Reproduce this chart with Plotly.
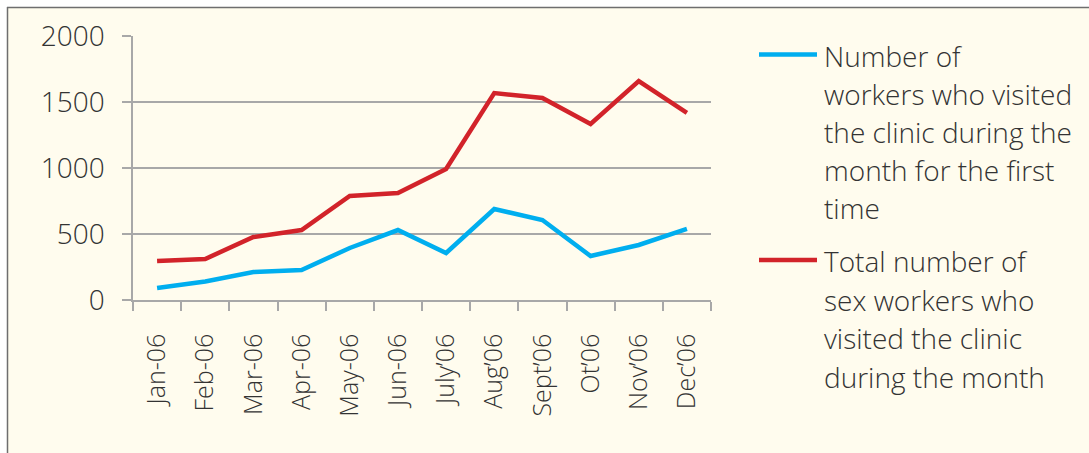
import plotly.graph_objects as go

months = ["Jan-06", "Feb-06", "Mar-06", "Apr-06", "May-06", "Jun-06",
          "July\u201906", "Aug\u201906", "Sept\u201906", "Ot\u201906", "Nov\u201906", "Dec\u201906"]
first_time = [91, 140, 212, 227, 394, 530, 356, 689, 606, 333, 417, 538]
total = [295, 311, 477, 530, 788, 810, 992, 1568, 1530, 1333, 1659, 1417]
y_ticks = [0, 500, 1000, 1500, 2000]
legend_first = ["Number of", "workers who visited", "the clinic during the", "month for the first", "time"]
legend_total = ["Total number of", "sex workers who", "visited the clinic", "during the month"]

BLUE = "#00AEEF"
RED = "#D2232A"
GRID = "#A8A8A8"
BG = "#FFFCEE"
TXT = "#333333"
FONT = "Open Sans"
WEIGHT = 300

W, H = 1089, 453
L, R, T, B = 133, 711, 36, 300

def px(x):
    return (x - L) / (R - L)

def py(y):
    return (B - y) / (B - T)

fig = go.Figure()
fig.add_trace(go.Scatter(x=months, y=first_time, mode="lines",
                         line=dict(color=BLUE, width=4.5), name=" ".join(legend_first)))
fig.add_trace(go.Scatter(x=months, y=total, mode="lines",
                         line=dict(color=RED, width=4.5), name=" ".join(legend_total)))

shapes = [
    dict(type="rect", xref="paper", yref="paper", x0=px(0), x1=px(W), y0=py(0), y1=py(7),
         fillcolor="white", line=dict(width=0), layer="below"),
    dict(type="rect", xref="paper", yref="paper", x0=px(0), x1=px(7), y0=py(0), y1=py(H),
         fillcolor="white", line=dict(width=0), layer="below"),
    dict(type="line", xref="paper", yref="paper", x0=px(7), x1=px(W), y0=py(7.5), y1=py(7.5),
         line=dict(color="#6E6E6E", width=1.5)),
    dict(type="line", xref="paper", yref="paper", x0=px(7.5), x1=px(7.5), y0=py(7), y1=py(H),
         line=dict(color="#6E6E6E", width=1.5)),
    dict(type="line", xref="paper", yref="paper", x0=px(759), x1=px(817), y0=py(54.5), y1=py(54.5),
         line=dict(color=BLUE, width=4.5)),
    dict(type="line", xref="paper", yref="paper", x0=px(759), x1=px(817), y0=py(260), y1=py(260),
         line=dict(color=RED, width=4.5)),
]

annotations = []
for i, t in enumerate(legend_first):
    annotations.append(dict(text=t, xref="paper", yref="paper", x=px(822), y=py(56 + 38 * i),
                            xanchor="left", yanchor="middle", showarrow=False,
                            font=dict(family=FONT, size=28, color=TXT, weight=WEIGHT)))
for i, t in enumerate(legend_total):
    annotations.append(dict(text=t, xref="paper", yref="paper", x=px(822), y=py(261 + 38.5 * i),
                            xanchor="left", yanchor="middle", showarrow=False,
                            font=dict(family=FONT, size=28, color=TXT, weight=WEIGHT)))

fig.update_layout(
    width=W, height=H,
    margin=dict(l=L, r=W - R, t=T, b=H - B, pad=0),
    paper_bgcolor=BG, plot_bgcolor=BG,
    showlegend=False,
    shapes=shapes, annotations=annotations,
    font=dict(family=FONT, color=TXT, weight=WEIGHT),
)
fig.update_xaxes(
    type="category", range=[-0.5, 11.5], tickson="boundaries",
    showgrid=False, showline=True, linecolor=GRID, linewidth=1.5,
    ticks="outside", ticklen=9, tickwidth=1.5, tickcolor=GRID,
    tickangle=-90, tickfont=dict(family=FONT, size=25, color=TXT, weight=WEIGHT),
    ticklabelstandoff=22,
)
fig.update_yaxes(
    range=[0, 2000], tickvals=y_ticks, showgrid=True, gridcolor=GRID, gridwidth=1.5,
    zeroline=False, showline=True, linecolor=GRID, linewidth=1.5,
    ticks="outside", ticklen=9, tickwidth=1.5, tickcolor=GRID,
    tickfont=dict(family=FONT, size=28, color=TXT, weight=WEIGHT), ticklabelstandoff=12,
)

fig.write_html("out.html", config={"displayModeBar": False},
               post_script="document.body.style.margin='0';document.body.style.overflow='hidden';")
